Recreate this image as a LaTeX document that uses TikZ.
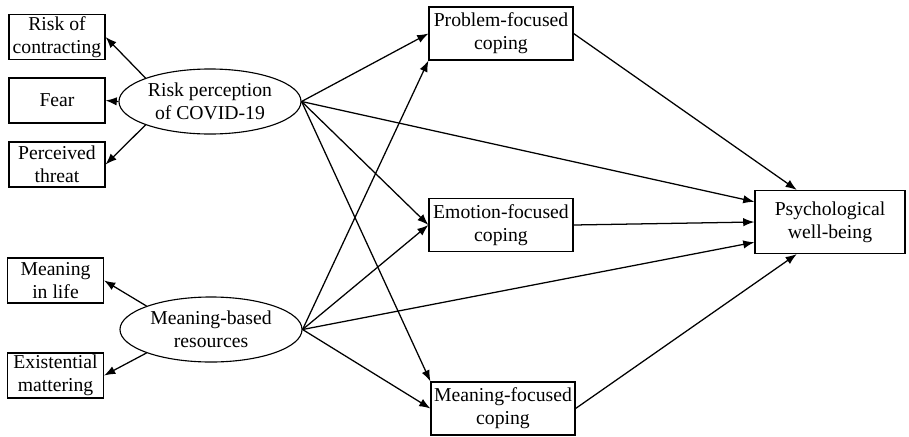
\documentclass[tikz,border=0pt]{standalone}
\usepackage{fontspec}
\setmainfont{Liberation Serif}
\usetikzlibrary{arrows.meta,shapes.geometric}

\begin{document}
\begin{tikzpicture}[
    x=0.025cm, y=-0.025cm,
    every node/.style = {align=center, font=\fontsize{14}{16.5}\selectfont, line width=0.8pt},
    indicator/.style = {shape=rectangle, draw, minimum width=2.4cm, minimum height=1.125cm, inner sep=0pt},
    coping/.style = {shape=rectangle, draw, minimum width=3.6cm, minimum height=1.325cm, inner sep=0pt},
    latent/.style = {shape=ellipse, draw, minimum width=4.55cm, minimum height=1.625cm, inner xsep=-3pt, inner ysep=0pt},
    arr/.style = {-{Latex[length=2.8mm,width=2.1mm]}, line width=0.9pt}
  ]
\useasboundingbox (0,0) rectangle (909,436);
% measurement side
\node[indicator] (contracting) at (57,37) {Risk of\\contracting};
\node[indicator] (fear) at (57,100.5) {Fear};
\node[indicator] (threat) at (57,164.5) {Perceived\\threat};
\node[indicator] (life) at (55.5,280.5) {Meaning\\in life};
\node[indicator] (mattering) at (55.5,375.5) {Existential\\mattering};
\node[latent] (riskperc) at (210,101.5) {Risk perception\\of COVID-19};
\node[latent] (meaningres) at (211,329.5) {Meaning-based\\resources};
% mediators and outcome
\node[coping] (problem) at (501,33.5) {Problem-focused\\coping};
\node[coping] (emotion) at (501,225) {Emotion-focused\\coping};
\node[coping] (meaningcop) at (503,408.5) {Meaning-focused\\coping};
\node[coping, minimum width=3.75cm, minimum height=1.575cm] (wellbeing) at (830,222) {Psychological\\well-being};

\draw[arr] (riskperc.160) -- (contracting.east);
\draw[arr] (riskperc.west) -- (fear.east);
\draw[arr] (riskperc.200) -- (threat.east);
\draw[arr] (meaningres.160) -- (life.east);
\draw[arr] (meaningres.200) -- (mattering.east);

\draw[arr] (riskperc.east) -- (problem.west);
\draw[arr] (riskperc.east) -- (emotion.west);
\draw[arr] (riskperc.east) -- (meaningcop.north west);
\draw[arr] (riskperc.east) -- (wellbeing.165);
\draw[arr] (meaningres.east) -- (problem.south west);
\draw[arr] (meaningres.east) -- (emotion.west);
\draw[arr] (meaningres.east) -- (meaningcop.west);
\draw[arr] (meaningres.east) -- (wellbeing.195);

\draw[arr] (problem.east) -- (wellbeing.136);
\draw[arr] (emotion.east) -- (wellbeing.west);
\draw[arr] (meaningcop.east) -- (wellbeing.224);
\end{tikzpicture}
\end{document}
